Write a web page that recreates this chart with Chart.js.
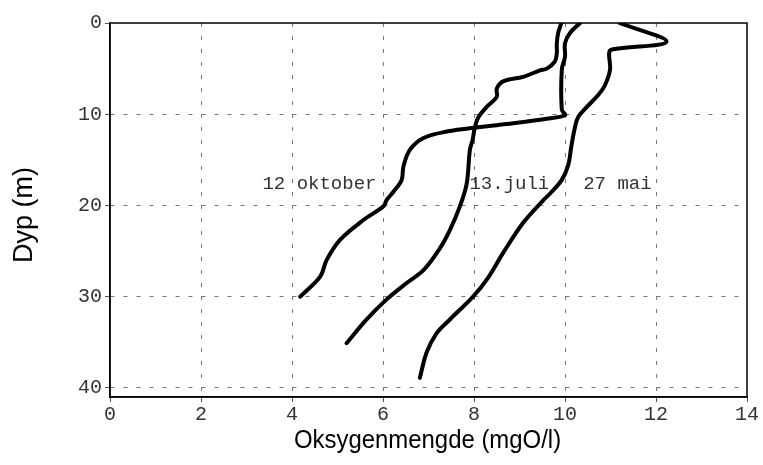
<!DOCTYPE html>
<html>
<head>
<meta charset="utf-8">
<script src="https://cdn.jsdelivr.net/npm/chart.js@4/dist/chart.umd.min.js"></script>
<style>
  html, body { margin: 0; padding: 0; background: #fff; }
  #wrap { width: 763px; height: 465px; }
</style>
</head>
<body>
<div id="wrap"><canvas id="oxyChart" width="763" height="465"></canvas></div>
<script>
// oxygen (mgO/l) and depth (m)
const oktoberOxy = [10.33, 10.11, 10.0, 10.0, 9.93, 9.93, 10.0, 9.6, 8.86, 8.13, 7.4, 6.89, 6.59, 6.45, 6.41, 6.23, 6.08, 6.01, 5.57, 5.05, 4.76, 4.62, 4.18];
const oktoberDepth = [0, 1.1, 2.2, 3.7, 5.1, 9.5, 10.1, 10.5, 11.0, 11.4, 11.9, 12.6, 13.9, 15.7, 17.2, 18.5, 19.4, 20.1, 21.6, 23.8, 26.0, 27.8, 30.0];

const juliOxy = [9.92, 9.85, 9.82, 9.82, 9.78, 9.6, 9.45, 9.08, 8.64, 8.5, 8.5, 8.28, 8.1, 8.02, 7.97, 7.91, 7.84, 7.69, 7.47, 7.25, 6.89, 6.52, 6.08, 5.64, 5.2];
const juliDepth = [0, 1.1, 2.2, 3.3, 4.2, 5.0, 5.2, 5.9, 6.4, 7.2, 8.1, 9.2, 10.3, 11.4, 12.8, 13.9, 17.6, 20.1, 22.7, 24.7, 27.1, 28.5, 30.3, 32.5, 35.1];

const maiOxy = [11.2, 12.23, 11.03, 10.97, 10.99, 10.88, 10.73, 10.48, 10.29, 10.22, 10.14, 10.07, 9.93, 9.71, 9.49, 9.08, 8.64, 8.3, 7.98, 7.47, 7.18, 6.96, 6.81];
const maiDepth = [0, 2.05, 2.9, 3.3, 5.1, 6.8, 7.9, 9.2, 10.3, 11.4, 13.5, 15.6, 17.2, 18.5, 19.6, 21.9, 25.2, 28.0, 30.0, 32.5, 34.0, 36.1, 38.9];

const xTicks = [0, 2, 4, 6, 8, 10, 12, 14];
const yTicks = [0, 10, 20, 30, 40];

const curveNames = ['12 oktober', '13.juli', '27 mai'];
const curveLabelAt = [[3.35, 17.7], [7.9, 17.7], [10.4, 17.7]];

const xTitle = 'Oksygenmengde (mgO/l)';
const yTitle = 'Dyp (m)';

function toPoints(xs, ys) {
  return xs.map((x, i) => ({ x: x, y: ys[i] }));
}

const lineStyle = {
  borderColor: '#000',
  borderWidth: 4,
  pointRadius: 0,
  tension: 0.35,
  fill: false,
  showLine: true,
  borderCapStyle: 'round',
  borderJoinStyle: 'round'
};

const monoFont = '"Liberation Mono", "DejaVu Sans Mono", monospace';
const titleFont = '"Liberation Sans", Arial, sans-serif';

// frame round the plot, curve names and the (narrow) axis titles
const framePlugin = {
  id: 'frame',
  afterDatasetsDraw(chart) {
    const { ctx, chartArea: a, scales } = chart;
    ctx.save();
    ctx.strokeStyle = '#000';
    ctx.lineWidth = 1.5;
    ctx.strokeRect(a.left, a.top, a.right - a.left, a.bottom - a.top);

    ctx.font = '19px ' + monoFont;
    ctx.fillStyle = '#333';
    ctx.textBaseline = 'middle';
    ctx.textAlign = 'left';
    curveNames.forEach((name, i) => {
      const px = scales.x.getPixelForValue(curveLabelAt[i][0]);
      const py = scales.y.getPixelForValue(curveLabelAt[i][1]);
      ctx.fillText(name, px, py);
    });

    ctx.fillStyle = '#000';
    ctx.font = '26px ' + titleFont;
    ctx.textAlign = 'center';
    // x title, squeezed a bit like the original
    ctx.save();
    ctx.translate((a.left + a.right) / 2 - 1, 441);
    ctx.scale(0.92, 1);
    ctx.fillText(xTitle, 0, 0);
    ctx.restore();
    // y title
    ctx.save();
    ctx.translate(25, (a.top + a.bottom) / 2 + 5);
    ctx.rotate(-Math.PI / 2);
    ctx.font = '27px ' + titleFont;
    ctx.fillText(yTitle, 0, 0);
    ctx.restore();
    ctx.restore();
  }
};

new Chart(document.getElementById('oxyChart').getContext('2d'), {
  type: 'scatter',
  data: {
    datasets: [
      Object.assign({ label: curveNames[0], data: toPoints(oktoberOxy, oktoberDepth) }, lineStyle),
      Object.assign({ label: curveNames[1], data: toPoints(juliOxy, juliDepth) }, lineStyle),
      Object.assign({ label: curveNames[2], data: toPoints(maiOxy, maiDepth) }, lineStyle)
    ]
  },
  options: {
    responsive: false,
    animation: false,
    layout: { padding: { top: 23, right: 16, left: 0, bottom: 0 } },
    plugins: {
      legend: { display: false },
      tooltip: { enabled: false }
    },
    scales: {
      x: {
        type: 'linear',
        min: 0,
        max: 14,
        afterBuildTicks: (s) => { s.ticks = xTicks.map((v) => ({ value: v })); },
        afterFit: (s) => { s.height = 68; },
        border: { display: true, color: '#000', width: 1.5, dash: [4, 9] },
        grid: {
          color: (c) => (c.tick && (c.tick.value === 0 || c.tick.value === 14)) ? 'rgba(0,0,0,0)' : '#777',
          lineWidth: 1,
          tickLength: 5,
          tickColor: '#555',
          tickBorderDash: [],
          drawTicks: true
        },
        ticks: {
          color: '#333',
          font: { family: monoFont, size: 20 },
          padding: 1,
          maxRotation: 0
        }
      },
      y: {
        type: 'linear',
        reverse: true,
        min: 0,
        max: 41,
        afterBuildTicks: (s) => { s.ticks = yTicks.map((v) => ({ value: v })); },
        afterFit: (s) => { s.width = 110; },
        border: { display: true, color: '#000', width: 1.5, dash: [4, 9] },
        grid: {
          color: (c) => (c.tick && c.tick.value === 0) ? 'rgba(0,0,0,0)' : '#777',
          lineWidth: 1,
          tickLength: 5,
          tickColor: '#555',
          tickBorderDash: []
        },
        ticks: {
          color: '#333',
          font: { family: monoFont, size: 20 },
          padding: 3
        }
      }
    }
  },
  plugins: [framePlugin]
});
</script>
</body>
</html>
